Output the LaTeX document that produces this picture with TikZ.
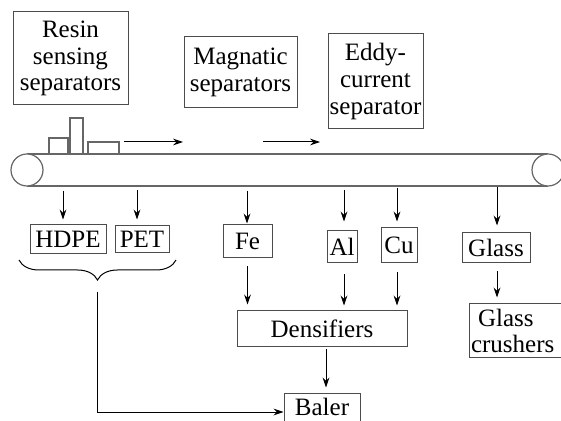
\documentclass[tikz,border=0pt]{standalone}
\usepackage{fontspec}
\setmainfont{Liberation Serif}
\usetikzlibrary{arrows.meta, positioning, decorations.pathreplacing}
\tikzset{
  unitbox/.style={draw=black!70, line width=0.5pt, inner sep=0pt, align=center,
                  font=\rmfamily\fontsize{12.5}{13.3}\selectfont},
  flow/.style={-{Stealth[length=5pt,width=3.4pt]}, line width=0.5pt},
  beltline/.style={draw=black!60, line width=0.6pt},
}

\begin{document}
\begin{tikzpicture}[x=0.5pt,y=-0.5pt]
\clip (0,0) rectangle (561,421);
% separators above the belt
\node[unitbox, minimum width=57.5pt, minimum height=46.5pt] (resin) at (70.5,58.5) {Resin\\sensing\\separators};
\node[unitbox, minimum width=56.5pt, minimum height=35.5pt] (magnet) at (240.5,72.5) {Magnatic\\separators};
\node[unitbox, minimum width=47.5pt, minimum height=47.5pt] (eddy) at (375.5,81.5) {Eddy-\\current\\separator};

% conveyor belt with items
\draw[beltline] (49,138) rectangle (68,154);
\draw[beltline] (70,118) rectangle (83,154);
\draw[beltline] (88,142) rectangle (119,154);
\draw[beltline] (27,154) -- (548,154) (27,186) -- (548,186);
\draw[beltline, fill=white] (27,170) circle (8pt) (548,170) circle (8pt);
\coordinate (m1) at (124,142);
\coordinate (m2) at (183,142);
\coordinate (m3) at (263,142);
\coordinate (m4) at (320,142);
\draw[flow] (m1) -- (m2);
\draw[flow] (m3) -- (m4);

% sorted materials
\node[unitbox, minimum width=38pt, minimum height=14.5pt] (hdpe) at (68,239.5) {HDPE};
\node[unitbox, minimum width=27pt, minimum height=13.5pt] (pet) at (142,239.5) {PET};
\node[unitbox, minimum width=24.5pt, minimum height=16.5pt] (fe) at (247.5,241.5) {Fe};
\node[unitbox, minimum width=15pt, minimum height=16pt] (al) at (342,247) {Al};
\node[unitbox, minimum width=18pt, minimum height=17.5pt] (cu) at (399,245.5) {Cu};
\node[unitbox, minimum width=34pt, minimum height=15pt] (glass) at (496,248) {Glass};

\coordinate (d1) at (63,191);
\coordinate (d2) at (137,190);
\coordinate (d3) at (247,191);
\coordinate (d4) at (344,190);
\coordinate (d5) at (397,188);
\coordinate (d6) at (497,187);
\draw[flow, shorten >=2.5pt] (d1) -- (d1 |- hdpe.north);
\draw[flow, shorten >=3pt] (d2) -- (d2 |- pet.north);
\draw[flow, shorten >=0.5pt] (d3) -- (d3 |- fe.north);
\draw[flow, shorten >=4.5pt] (d4) -- (d4 |- al.north);
\draw[flow, shorten >=3pt] (d5) -- (d5 |- cu.north);
\draw[flow, shorten >=3.5pt] (d6) -- (d6 |- glass.north);

% processing
\node[unitbox, minimum width=85pt, minimum height=18pt] (dens) at (322,329) {Densifiers};
\node[unitbox, minimum width=46pt, minimum height=27pt, align=left, text width=44pt] (crush) at (515,331) {\hspace*{3.5pt}Glass\\crushers};
\node[unitbox, minimum width=38pt, minimum height=18pt, text depth=5pt] (baler) at (322,412) {Baler};

\draw[flow, shorten <=4pt, shorten >=3pt] (fe.south) -- (fe.south |- dens.north);
\draw[flow, shorten <=5.5pt, shorten >=2.5pt] (al.south -| 344,0) -- (344,0 |- dens.north);
\draw[flow, shorten <=4.5pt, shorten >=2.5pt] (cu.south -| 397,0) -- (397,0 |- dens.north);
\draw[flow, shorten <=4pt, shorten >=3pt] (glass.south -| 497,0) -- (497,0 |- crush.north);
\draw[flow, shorten <=1pt, shorten >=3pt] (dens.south -| 326,0) -- (326,0 |- baler.north);

% plastics go straight to the baler
\draw[line width=0.5pt, decorate, decoration={brace, mirror, amplitude=10pt}] (19,260) -- (176,260);
\coordinate (tip) at (97,292);
\draw[flow] (tip) |- (baler.west);
\end{tikzpicture}
\end{document}
